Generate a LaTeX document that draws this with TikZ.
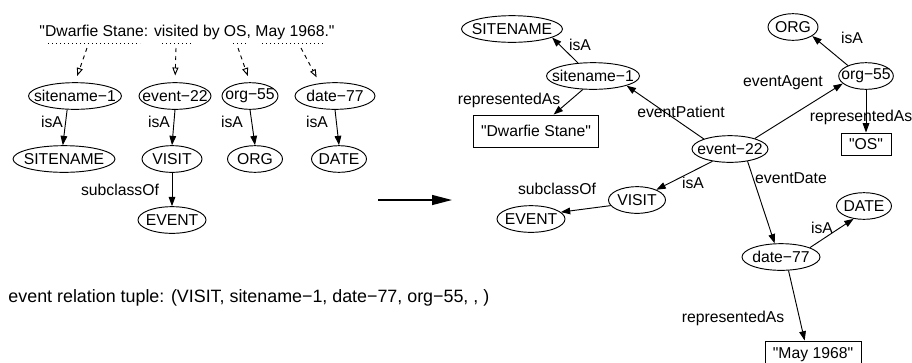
\documentclass[tikz,border=0pt]{standalone}
\usepackage{fontspec}
\setmainfont{Liberation Sans}[Ligatures=TeXOff]
\usetikzlibrary{arrows.meta}
\usetikzlibrary{shapes.geometric}
\tikzset{>={Triangle[length=7pt,width=5pt]}}
\tikzstyle{ent} = [ellipse, draw, inner xsep=-20pt, inner ysep=0pt, minimum height=20pt]
\tikzstyle{lit} = [rectangle, draw, inner sep=0pt]
\tikzstyle{lab} = [draw=none, inner sep=0pt]
\tikzstyle{uline} = [dash pattern=on 0.8pt off 2.2pt]
\tikzstyle{ment} = [-{Triangle[open, length=6pt, width=4.5pt]}, dash pattern=on 3pt off 3pt, shorten >=5pt]

\begin{document}
\begin{tikzpicture}[x=0.75pt, y=-0.75pt, line width=0.7pt, font=\fontsize{11.8}{14}\selectfont]
\useasboundingbox (0,0) rectangle (912,362);

% sentence and its mentions
\node [lab] (sent) at (187,32) {"Dwarfie Stane: visited by OS, May 1968."};
\draw [uline] (48,43) -- (140,43);
\draw [uline] (162,43) -- (193,43);
\draw [uline] (233,43) -- (247,43);
\draw [uline] (262,43) -- (325,43);
\coordinate (m1) at (87,48);
\coordinate (m2) at (176,48);
\coordinate (m3) at (238,48);
\coordinate (m4) at (301,48);

\node [ent, minimum width=69.75pt] (site1) at (75,96) {sitename−1};
\node [ent, minimum width=54pt] (event22) at (175,96) {event−22};
\node [ent, minimum width=42pt] (org55) at (250,96) {org−55};
\node [ent, minimum width=60pt] (date77) at (335,96) {date−77};
\node [ent, minimum width=76.5pt] (sitecls) at (64,159) {SITENAME};
\node [ent, minimum width=45pt] (visit) at (172,159) {VISIT};
\node [ent, minimum width=41.25pt] (orgcls) at (255,159) {ORG};
\node [ent, minimum width=41.25pt] (datecls) at (339,159) {DATE};
\node [ent, minimum width=51pt] (eventcls) at (172,220) {EVENT};

\draw [ment] (m1) to (site1.north);
\draw [ment] (m2) to (event22.north);
\draw [ment] (m3) to (org55.north);
\draw [ment] (m4) to (date77.140);

\draw [->] (site1.-120) to (sitecls.95);
\draw [->] (event22.south) to (visit.north);
\draw [->] (org55.south) to (orgcls.north);
\draw [->] (date77.south) to (datecls.north);
\draw [->] (visit.south) to (eventcls.north);
\node [lab] (isa1) at (52,122) {isA};
\node [lab] (isa2) at (159,122) {isA};
\node [lab] (isa3) at (232,122) {isA};
\node [lab] (isa4) at (317,122) {isA};
\node [lab] (sub1) at (120,190) {subclassOf};

\node [lab, anchor=west, font=\fontsize{13.4}{16}\selectfont] (tuple) at (8,298) {event relation tuple: (VISIT, sitename−1, date−77, org−55, , )};

% big arrow
\coordinate (go1) at (378,200);
\coordinate (go2) at (452,200);
\draw [-{Triangle[length=15pt, width=7.5pt]}, line width=1pt] (go1) -- (go2);

% resulting graph
\node [ent, minimum width=75.75pt] (gsitecls) at (512,29) {SITENAME};
\node [ent, minimum width=69.75pt] (gsite1) at (593,76) {sitename−1};
\node [lit, minimum width=93.75pt, minimum height=24pt] (gname) at (536,131) {"Dwarfie Stane"};
\node [ent, minimum width=57pt] (gevent22) at (730,149) {event−22};
\node [ent, minimum width=41pt] (gorg55) at (866,76) {org−55};
\node [ent, minimum width=37.5pt] (gorgcls) at (793,27) {ORG};
\node [lit, minimum width=37.5pt, minimum height=16.5pt] (gos) at (866,144) {"OS"};
\node [ent, minimum width=42.75pt] (gvisit) at (637,200) {VISIT};
\node [ent, minimum width=51pt] (geventcls) at (531,219) {EVENT};
\node [ent, minimum width=58.5pt] (gdate77) at (781,257) {date−77};
\node [ent, minimum width=41.25pt] (gdatecls) at (864,206) {DATE};
\node [lit, minimum width=72pt, minimum height=21pt] (gdate) at (813,355) {"May 1968"};

\draw [->] (gsite1.139) to (gsitecls.-12);
\draw [->] (gsite1.-127) to (gname.43);
\draw [->] (gevent22.159) to (gsite1.-16);
\draw [->] (gevent22.23) to (gorg55.198);
\draw [->] (gorg55.150) to (gorgcls.-25);
\draw [->] (gorg55.south) to (gos.north);
\draw [->] (gevent22.215) to (gvisit.28);
\draw [->] (gvisit.192) to (geventcls.13);
\draw [->] (gevent22.-35) to (gdate77.115);
\draw [->] (gdate77.18) to (gdatecls.231);
\draw [->] (gdate77.-61) to (gdate.120);

\node [lab] (gisa1) at (580,45) {isA};
\node [lab] (grep1) at (509,100) {representedAs};
\node [lab] (gpat) at (681,112) {eventPatient};
\node [lab] (gagt) at (783,83) {eventAgent};
\node [lab] (gisa2) at (852,38) {isA};
\node [lab] (grep2) at (861,117) {representedAs};
\node [lab] (gisa3) at (693,183) {isA};
\node [lab] (gsub) at (557,189) {subclassOf};
\node [lab] (gdt) at (791,178) {eventDate};
\node [lab] (gisa4) at (822,228) {isA};
\node [lab] (grep3) at (733,318) {representedAs};
\end{tikzpicture}
\end{document}
